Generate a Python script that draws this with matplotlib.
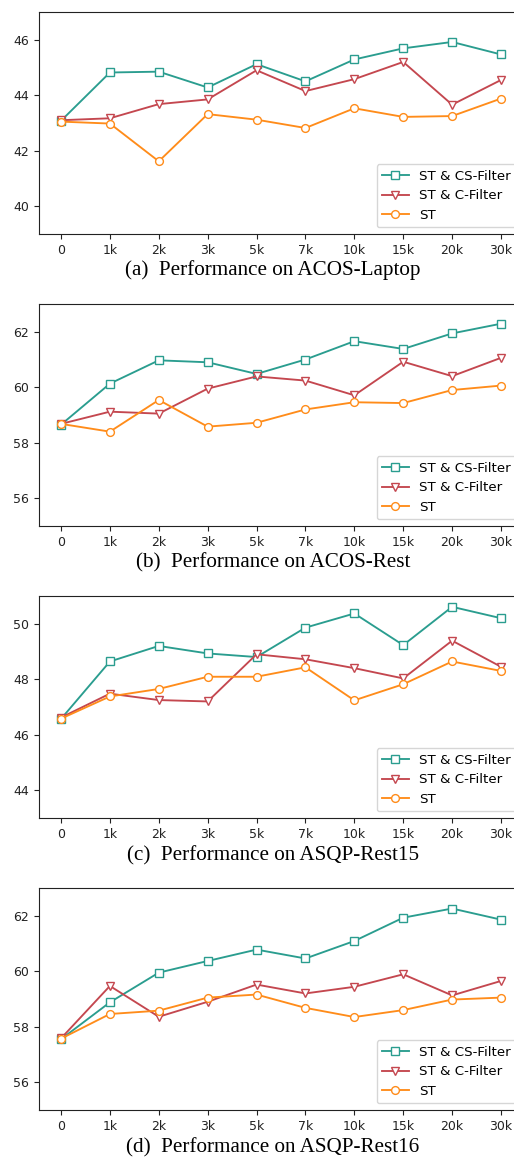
import matplotlib
matplotlib.use('Agg')
import matplotlib.pyplot as plt

# ------------------------------------------------------------------------------
# Data
# ------------------------------------------------------------------------------
steps = ['0', '1k', '2k', '3k', '5k', '7k', '10k', '15k', '20k', '30k']
labels = ['ST & CS-Filter', 'ST & C-Filter', 'ST']

captions = ['(a)  Performance on ACOS-Laptop',
            '(b)  Performance on ACOS-Rest',
            '(c)  Performance on ASQP-Rest15',
            '(d)  Performance on ASQP-Rest16']

ylims = [(39, 47), (55, 63), (43, 51), (55, 63)]
yticks = [[40, 42, 44, 46], [56, 58, 60, 62], [44, 46, 48, 50], [56, 58, 60, 62]]

laptop_cs = [43.08, 44.82, 44.85, 44.28, 45.12, 44.50, 45.29, 45.69, 45.92, 45.47]
laptop_c  = [43.10, 43.17, 43.68, 43.85, 44.90, 44.15, 44.58, 45.20, 43.66, 44.55]
laptop_st = [43.05, 42.98, 41.62, 43.32, 43.12, 42.82, 43.53, 43.22, 43.25, 43.88]

rest_cs = [58.65, 60.13, 60.97, 60.90, 60.48, 61.00, 61.66, 61.38, 61.94, 62.29]
rest_c  = [58.68, 59.12, 59.05, 59.95, 60.39, 60.24, 59.71, 60.92, 60.40, 61.06]
rest_st = [58.68, 58.40, 59.54, 58.58, 58.72, 59.20, 59.46, 59.43, 59.90, 60.06]

r15_cs = [46.57, 48.64, 49.20, 48.93, 48.80, 49.86, 50.37, 49.23, 50.61, 50.20]
r15_c  = [46.62, 47.48, 47.25, 47.20, 48.90, 48.72, 48.40, 48.03, 49.39, 48.45]
r15_st = [46.58, 47.38, 47.65, 48.09, 48.09, 48.43, 47.24, 47.82, 48.64, 48.30]

r16_cs = [57.55, 58.88, 59.95, 60.37, 60.78, 60.46, 61.09, 61.93, 62.26, 61.86]
r16_c  = [57.58, 59.47, 58.36, 58.90, 59.52, 59.20, 59.44, 59.89, 59.13, 59.65]
r16_st = [57.57, 58.46, 58.58, 59.05, 59.16, 58.68, 58.35, 58.60, 58.98, 59.05]

panels = [(laptop_cs, laptop_c, laptop_st),
          (rest_cs, rest_c, rest_st),
          (r15_cs, r15_c, r15_st),
          (r16_cs, r16_c, r16_st)]

# ------------------------------------------------------------------------------
# Style
# ------------------------------------------------------------------------------
COLORS = ['#2a9d8f', '#c4474f', '#ff8c1a']
MARKERS = ['s', 'v', 'o']
W, H = 514, 1160

# axes boxes in pixels (left, top, right, bottom); right edge falls off the image
boxes = [(39, 12, 523, 234), (39, 304, 523, 526),
         (39, 596, 523, 818), (39, 888, 523, 1110)]
cap_y = [270, 563, 856, 1148]

fig = plt.figure(figsize=(W / 100, H / 100), dpi=100)

for i, series in enumerate(panels):
    l, t, r, b = boxes[i]
    ax = fig.add_axes([l / W, 1 - b / H, (r - l) / W, (b - t) / H])
    x = range(len(steps))
    for vals, lab, col, mk in zip(series, labels, COLORS, MARKERS):
        ax.plot(x, vals, color=col, marker=mk, markerfacecolor='white',
                markeredgecolor=col, markersize=5.6, linewidth=1.35, label=lab)
    ax.set_xticks(list(x))
    ax.set_xticklabels(steps)
    ax.set_ylim(*ylims[i])
    ax.set_yticks(yticks[i])
    ax.tick_params(labelsize=9, colors='#222222', labelcolor='#222222')
    for s in ax.spines.values():
        s.set_color('#222222')
    ax.legend(loc='lower right', fontsize=9.6)
    fig.text(273 / W, 1 - cap_y[i] / H, captions[i], ha='center', va='center',
             family='Liberation Serif', fontsize=15.2)

fig.savefig('out.png', dpi=100)
